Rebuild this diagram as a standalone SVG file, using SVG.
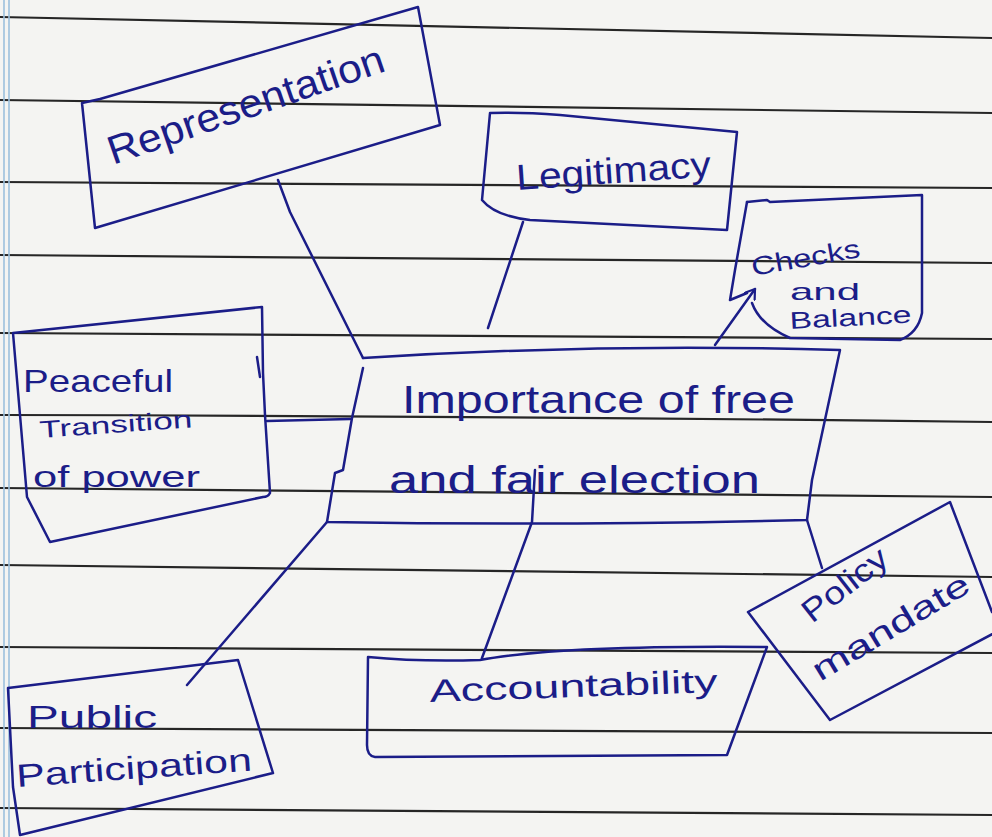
<svg xmlns="http://www.w3.org/2000/svg" width="992" height="837" viewBox="0 0 992 837">
<style>
.ink{fill:none;stroke:#1b1d88;stroke-width:2.5;stroke-linecap:round;stroke-linejoin:round}
.rule{fill:none;stroke:#262626;stroke-width:2.2}
.t{font-family:"Liberation Sans","DejaVu Sans",sans-serif;fill:#1b1d88}
</style>
<defs>
<marker id="arr" markerWidth="14" markerHeight="14" refX="10" refY="7" orient="auto" markerUnits="userSpaceOnUse">
<path d="M1,1 L10,7 L1,13" fill="none" stroke="#1b1d88" stroke-width="2.2" stroke-linecap="round" stroke-linejoin="round"/>
</marker>
</defs>
<rect x="0" y="0" width="992" height="837" fill="#f4f4f2"/>
<g id="paper">
<path class="rule" d="M0,17 Q500,28 992,38"/>
<path class="rule" d="M0,100 Q500,108 992,113"/>
<path class="rule" d="M0,182 Q500,183 992,188"/>
<path class="rule" d="M0,255 Q500,258 992,263"/>
<path class="rule" d="M0,333 Q500,337 992,339"/>
<path class="rule" d="M0,415 Q500,416 992,422"/>
<path class="rule" d="M0,488 Q500,493 992,497"/>
<path class="rule" d="M0,565 Q500,572 992,577"/>
<path class="rule" d="M0,647 Q500,652 992,653"/>
<path class="rule" d="M0,728 Q500,732 992,733"/>
<path class="rule" d="M0,808 Q500,812 992,815"/>
<line x1="4" y1="0" x2="4" y2="837" stroke="#9cc0dc" stroke-width="1.6"/>
<line x1="9" y1="0" x2="9" y2="837" stroke="#9cc0dc" stroke-width="1.6"/>
</g>
<g id="connectors">
<path class="ink" d="M278,180 L290,212 L363,358"/>
<path class="ink" d="M523,222 L488,328"/>
<path class="ink" d="M715,345 L755,289" marker-end="url(#arr)"/>
<path class="ink" d="M267,421 L350,419"/>
<path class="ink" d="M327,522 L187,685"/>
<path class="ink" d="M535,470 L532,522 L482,658"/>
<path class="ink" d="M807,520 L822,568"/>
</g>
<g id="representation">
<path class="ink" d="M100,99 L418,7 L440,125 L95,228 L82,103 L100,99"/>
<text class="t" x="113" y="165" font-size="40" textLength="290" lengthAdjust="spacingAndGlyphs" transform="rotate(-19 113 165)">Representation</text>
</g>
<g id="legitimacy">
<path class="ink" d="M490,113 Q520,112 560,115 L737,132 L727,230 L530,220 Q495,216 482,200 L490,113"/>
<text class="t" x="517" y="190" font-size="36" textLength="195" lengthAdjust="spacingAndGlyphs" transform="rotate(-4 517 190)">Legitimacy</text>
</g>
<g id="checks">
<path class="ink" d="M747,202 L767,200 L770,202 L922,195 L922,313 Q918,333 900,340 L790,338 Q760,325 752,303"/>
<path class="ink" d="M747,202 L735,270 L730,300 L747,293"/>
<text class="t" x="753" y="276" font-size="26" textLength="110" lengthAdjust="spacingAndGlyphs" transform="rotate(-10 753 276)">Checks</text>
<text class="t" x="790" y="300" font-size="24" textLength="70" lengthAdjust="spacingAndGlyphs">and</text>
<text class="t" x="790" y="329" font-size="24" textLength="122" lengthAdjust="spacingAndGlyphs" transform="rotate(-3 790 329)">Balance</text>
</g>
<g id="central">
<path class="ink" d="M363,358 Q600,343 840,350 L812,480 L807,520 Q560,526 327,522 L335,473 L343,470 L352,418 L363,368"/>
<text class="t" x="402" y="413" font-size="38" textLength="393" lengthAdjust="spacingAndGlyphs">Importance of free</text>
<text class="t" x="389" y="493" font-size="38" textLength="371" lengthAdjust="spacingAndGlyphs">and fair election</text>
</g>
<g id="peaceful">
<path class="ink" d="M13,333 L262,307 L263,373 L265,415 L270,493 Q268,497 263,497 L50,542 L27,497 L13,333"/>
<path class="ink" d="M257,357 L260,377"/>
<text class="t" x="23" y="392" font-size="32" textLength="150" lengthAdjust="spacingAndGlyphs">Peaceful</text>
<text class="t" x="40" y="438" font-size="24" textLength="153" lengthAdjust="spacingAndGlyphs" transform="rotate(-4 40 438)">Transition</text>
<text class="t" x="33" y="487" font-size="30" textLength="167" lengthAdjust="spacingAndGlyphs">of power</text>
</g>
<g id="public">
<path class="ink" d="M8,688 L238,660 L273,773 L20,835 L13,787 L8,688"/>
<text class="t" x="27" y="728" font-size="32" textLength="130" lengthAdjust="spacingAndGlyphs">Public</text>
<text class="t" x="17" y="787" font-size="32" textLength="236" lengthAdjust="spacingAndGlyphs" transform="rotate(-4 17 787)">Participation</text>
</g>
<g id="accountability">
<path class="ink" d="M368,657 Q420,662 480,660 Q560,645 767,647 L727,755 L375,757 Q367,756 367,745 L368,657"/>
<text class="t" x="430" y="702" font-size="32" textLength="288" lengthAdjust="spacingAndGlyphs" transform="rotate(-2 430 702)">Accountability</text>
</g>
<g id="policy">
<path class="ink" d="M748,612 L950,502 L992,612 M1000,630 L830,720 L748,612"/>
<text class="t" x="812" y="624" font-size="32" textLength="100" lengthAdjust="spacingAndGlyphs" transform="rotate(-38 812 624)">Policy</text>
<text class="t" x="820" y="682" font-size="32" textLength="178" lengthAdjust="spacingAndGlyphs" transform="rotate(-31 820 682)">mandate</text>
</g>
</svg>
